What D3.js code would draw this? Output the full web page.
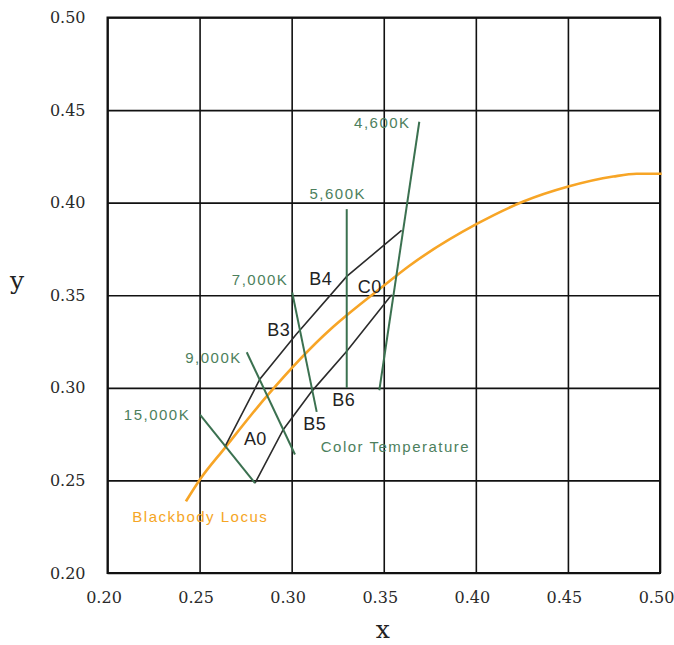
<!DOCTYPE html>
<html>
<head>
<meta charset="utf-8">
<script src="https://cdn.jsdelivr.net/npm/d3@7"></script>
<style>
  body { margin: 0; background: #fff; }
  .axis-title { font-family: "DejaVu Serif", serif; font-size: 25px; fill: #222; }
  .temp-label { font-family: "Liberation Sans", Arial, sans-serif; font-size: 15px; letter-spacing: 1.5px; fill: #4d7f5d; }
  .bin-label { font-family: "Liberation Sans", Arial, sans-serif; font-size: 18px; letter-spacing: 0.4px; fill: #222; }
</style>
</head>
<body>
<div id="chart_div"></div>
<script>
//------------------------1. PREPARATION-------------------------//
const width = 674;
const height = 645;
const plotLeft = 107.5, plotRight = 660, plotTop = 17.5, plotBottom = 573;

const svg = d3.select("#chart_div").append("svg")
  .attr("width", width)
  .attr("height", height);

//-----------------------------DATA------------------------------//
const ticks = [0.20, 0.25, 0.30, 0.35, 0.40, 0.45, 0.50];

// blackbody (planckian) locus
const locus = [
  { x: 0.2426, y: 0.2387 },
  { x: 0.2502, y: 0.2505 },
  { x: 0.2638, y: 0.2676 },
  { x: 0.2864, y: 0.2954 },
  { x: 0.3208, y: 0.3314 },
  { x: 0.3299, y: 0.3392 },
  { x: 0.3498, y: 0.3550 },
  { x: 0.3643, y: 0.3662 },
  { x: 0.4005, y: 0.3885 },
  { x: 0.4258, y: 0.4006 },
  { x: 0.4502, y: 0.4087 },
  { x: 0.4746, y: 0.4141 },
  { x: 0.4873, y: 0.4156 },
  { x: 0.5009, y: 0.4156 }
];

// iso-temperature lines: [top end, bottom end]
const isotherms = [
  { name: "15,000K", line: [{ x: 0.2502, y: 0.2855 }, { x: 0.2801, y: 0.2486 }], label: { x: 0.2449, y: 0.2828 } },
  { name: "9,000K",  line: [{ x: 0.2756, y: 0.3192 }, { x: 0.3018, y: 0.2640 }], label: { x: 0.2729, y: 0.3134 } },
  { name: "7,000K",  line: [{ x: 0.3003, y: 0.3515 }, { x: 0.3136, y: 0.2870 }], label: { x: 0.2982, y: 0.3557 } },
  { name: "5,600K",  line: [{ x: 0.3299, y: 0.3965 }, { x: 0.3299, y: 0.3000 }], label: { x: 0.3404, y: 0.4021 } },
  { name: "4,600K",  line: [{ x: 0.3693, y: 0.4437 }, { x: 0.3476, y: 0.2987 }], label: { x: 0.3646, y: 0.4403 } }
];

// bin boundaries (upper and lower edge of the band)
const upperEdge = [
  { x: 0.2638, y: 0.2683 },
  { x: 0.2828, y: 0.3048 },
  { x: 0.3023, y: 0.3287 },
  { x: 0.3299, y: 0.3602 },
  { x: 0.3597, y: 0.3850 }
];
const lowerEdge = [
  { x: 0.2801, y: 0.2486 },
  { x: 0.2954, y: 0.2774 },
  { x: 0.3109, y: 0.2981 },
  { x: 0.3299, y: 0.3197 },
  { x: 0.3543, y: 0.3503 }
];

const binLabels = [
  { name: "A0", x: 0.2741, y: 0.2693 },
  { name: "B3", x: 0.2868, y: 0.3278 },
  { name: "B4", x: 0.3096, y: 0.3557 },
  { name: "B5", x: 0.3063, y: 0.2773 },
  { name: "B6", x: 0.3221, y: 0.2900 },
  { name: "C0", x: 0.3359, y: 0.3512 }
];

const notes = [
  { name: "Color Temperature", x: 0.3158, y: 0.2656, color: "#4d7f5d" },
  { name: "Blackbody Locus",   x: 0.2135, y: 0.2274, color: "#f5a524" }
];

//----------------------------SCALES-----------------------------//
const xScale = d3.scaleLinear().domain([0.2, 0.5]).range([plotLeft, plotRight]);
const yScale = d3.scaleLinear().domain([0.2, 0.5]).range([plotBottom, plotTop]);

//-----------------------------AXES------------------------------//
const xaxis = d3.axisBottom(xScale)
  .tickValues(ticks)
  .tickFormat(d3.format(".2f"))
  .tickSize(-(plotBottom - plotTop))
  .tickPadding(13);

const yaxis = d3.axisLeft(yScale)
  .tickValues(ticks)
  .tickFormat(d3.format(".2f"))
  .tickSize(-(plotRight - plotLeft))
  .tickPadding(22);

const gx = svg.append("g")
  .attr("transform", "translate(0," + plotBottom + ")")
  .call(xaxis);
const gy = svg.append("g")
  .attr("transform", "translate(" + plotLeft + ",0)")
  .call(yaxis);

[gx, gy].forEach(g => {
  g.attr("font-family", "DejaVu Serif, serif").attr("font-size", 16);
  g.select(".domain").remove();
  g.selectAll(".tick line").attr("stroke", "#111").attr("stroke-width", 1.6);
  g.selectAll(".tick text").attr("fill", "#2a2a2a");
});
gx.selectAll(".tick text").attr("dx", -4).attr("dy", "1.05em");

svg.append("rect")
  .attr("x", plotLeft).attr("y", plotTop)
  .attr("width", plotRight - plotLeft).attr("height", plotBottom - plotTop)
  .attr("fill", "none").attr("stroke", "#111").attr("stroke-width", 2);

svg.append("text").attr("class", "axis-title")
  .attr("x", (plotLeft + plotRight) / 2 - 1).attr("y", 638)
  .attr("text-anchor", "middle").text("x");
svg.append("text").attr("class", "axis-title")
  .attr("x", 17).attr("y", 289)
  .attr("text-anchor", "middle").text("y");

//----------------------------LINES------------------------------//
const line = d3.line()
  .x(d => xScale(d.x))
  .y(d => yScale(d.y));

svg.append("path")
  .attr("d", line.curve(d3.curveMonotoneX)(locus))
  .attr("fill", "none")
  .attr("stroke", "#f7a526")
  .attr("stroke-width", 2.6);

line.curve(d3.curveLinear);

svg.append("g")
  .selectAll("path")
  .data([upperEdge, lowerEdge])
  .enter()
  .append("path")
  .attr("d", d => line(d))
  .attr("fill", "none")
  .attr("stroke", "#2b2b2b")
  .attr("stroke-width", 1.6);

svg.append("g")
  .selectAll("path")
  .data(isotherms)
  .enter()
  .append("path")
  .attr("d", d => line(d.line))
  .attr("fill", "none")
  .attr("stroke", "#3b7150")
  .attr("stroke-width", 2);

//----------------------------LABELS-----------------------------//
svg.append("g")
  .selectAll("text")
  .data(isotherms)
  .enter()
  .append("text")
  .attr("class", "temp-label")
  .attr("x", d => xScale(d.label.x))
  .attr("y", d => yScale(d.label.y))
  .attr("text-anchor", "end")
  .text(d => d.name);

svg.append("g")
  .selectAll("text")
  .data(binLabels)
  .enter()
  .append("text")
  .attr("class", "bin-label")
  .attr("x", d => xScale(d.x))
  .attr("y", d => yScale(d.y))
  .text(d => d.name);

svg.append("g")
  .selectAll("text")
  .data(notes)
  .enter()
  .append("text")
  .attr("class", "temp-label")
  .attr("x", d => xScale(d.x))
  .attr("y", d => yScale(d.y))
  .style("fill", d => d.color)
  .text(d => d.name);
</script>
</body>
</html>
